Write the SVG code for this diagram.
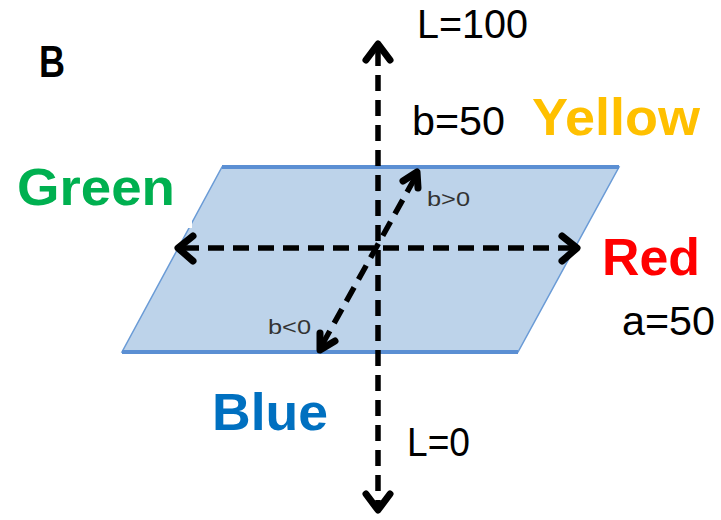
<svg xmlns="http://www.w3.org/2000/svg" width="721" height="520" viewBox="0 0 721 520">
<style>
.axis{fill:none;stroke:#000;stroke-width:5.5;stroke-dasharray:16 9}
.head{fill:none;stroke:#000;stroke-width:7;stroke-linecap:round;stroke-linejoin:round}
.t{font-family:"Liberation Sans",Arial,sans-serif;fill:#000}
.b{font-weight:bold}
.s{font-size:21px;fill:#333}
</style>
<rect width="721" height="520" fill="#fff"/>
<g id="plane">
<polygon points="222,167 619,167 518,352 122,352" fill="#bdd3ea" stroke="#6a9bd6" stroke-width="1.5"/>
<line x1="222" y1="167" x2="619" y2="167" stroke="#5b8fd3" stroke-width="4"/>
<line x1="122" y1="352" x2="518" y2="352" stroke="#5b8fd3" stroke-width="4"/>
</g>
<rect x="0" y="150" width="192" height="78" fill="#fff"/>
<g id="connectors">
<line class="axis" x1="378" y1="50" x2="378" y2="506"/>
<polyline class="head" points="366,60 378,44 390,60"/>
<polyline class="head" points="366,494 378,510 390,494"/>
<line class="axis" x1="183" y1="248" x2="572" y2="248"/>
<polyline class="head" points="193,236 178,248 193,261"/>
<polyline class="head" points="562,236 577,248 562,261"/>
<line class="axis" x1="322" y1="345" x2="416" y2="176"/>
<polyline class="head" points="403,181 417,172 418,188"/>
<polyline class="head" points="320,333 320,350 335,341"/>
</g>
<g id="labels">
<text class="t b" x="39" y="77" font-size="44" textLength="26" lengthAdjust="spacingAndGlyphs">B</text>
<text class="t" x="417" y="38" font-size="40" textLength="111" lengthAdjust="spacingAndGlyphs">L=100</text>
<text class="t" x="412" y="135" font-size="40" textLength="93" lengthAdjust="spacingAndGlyphs">b=50</text>
<text class="t b" x="532" y="135" font-size="52" style="fill:#ffc000" textLength="168" lengthAdjust="spacingAndGlyphs">Yellow</text>
<text class="t b" x="17" y="205" font-size="52" style="fill:#00b050" textLength="158" lengthAdjust="spacingAndGlyphs">Green</text>
<text class="t b" x="602" y="275" font-size="52" style="fill:#ff0000" textLength="98" lengthAdjust="spacingAndGlyphs">Red</text>
<text class="t" x="622" y="335" font-size="40" textLength="93" lengthAdjust="spacingAndGlyphs">a=50</text>
<text class="t b" x="212" y="430" font-size="52" style="fill:#0070c0" textLength="116" lengthAdjust="spacingAndGlyphs">Blue</text>
<text class="t" x="407" y="456" font-size="40" textLength="63" lengthAdjust="spacingAndGlyphs">L=0</text>
<text class="t s" x="427" y="206" textLength="43" lengthAdjust="spacingAndGlyphs">b&gt;0</text>
<text class="t s" x="268" y="334" textLength="43" lengthAdjust="spacingAndGlyphs">b&lt;0</text>
</g>
</svg>
